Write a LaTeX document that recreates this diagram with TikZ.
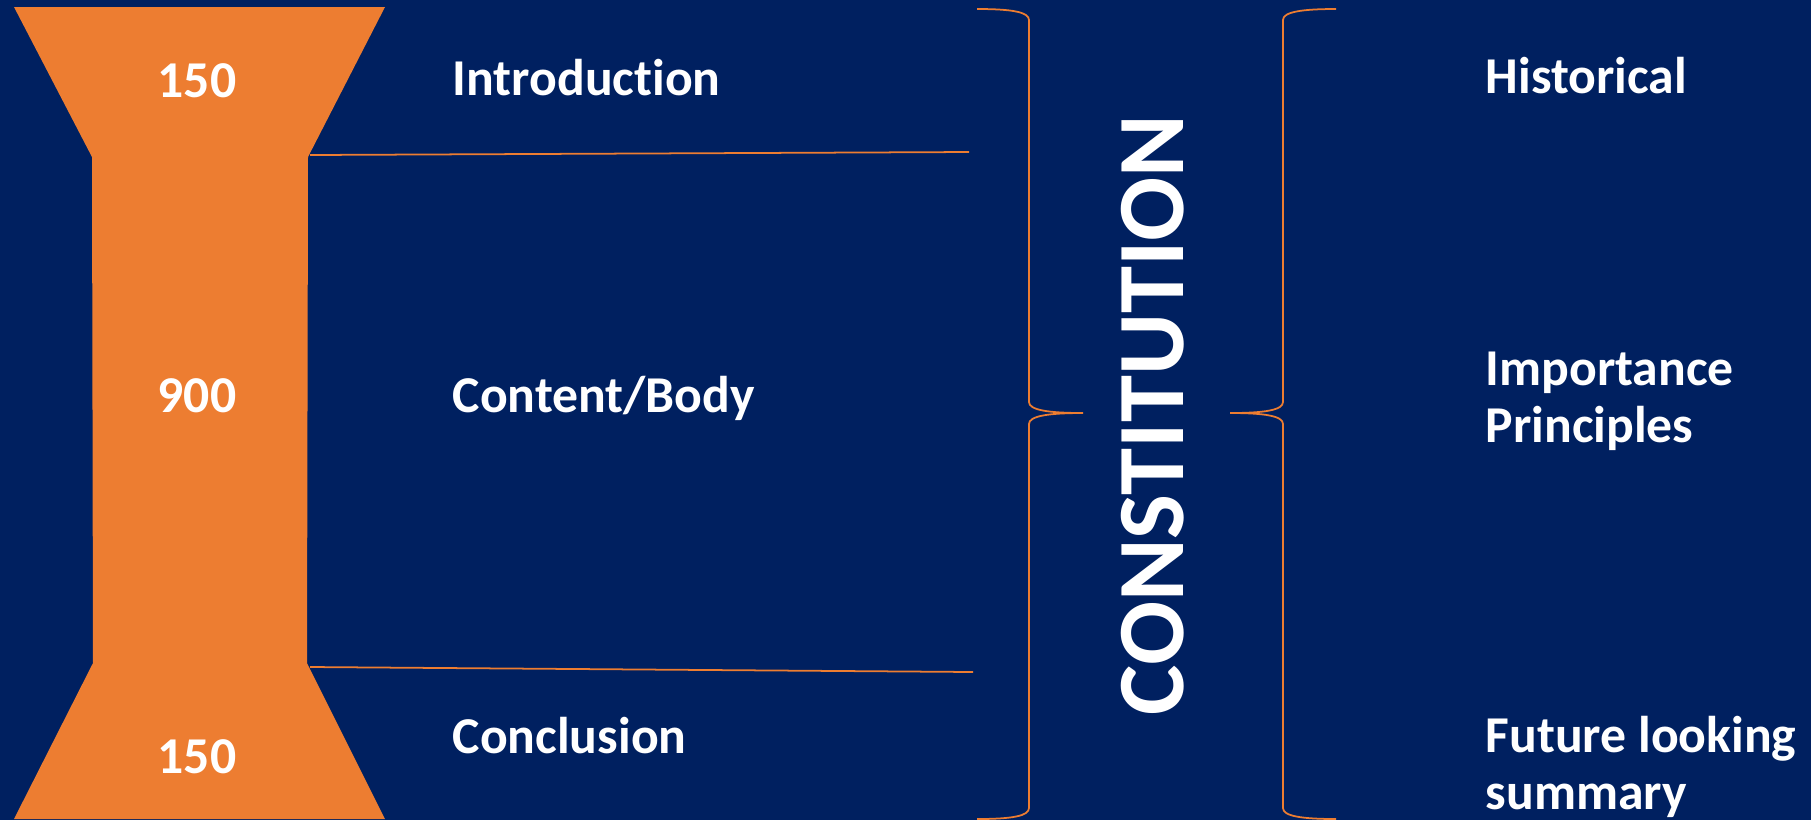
\documentclass[tikz,border=0pt]{standalone}
\usepackage{fontspec}
\setmainfont{Carlito}[Ligatures=NoCommon]
\definecolor{navy}{HTML}{002060}
\definecolor{accent}{HTML}{ED7D31}
\begin{document}
\begin{tikzpicture}[x=0.01cm,y=-0.01cm,
  label/.style={anchor=base west,inner sep=0pt,text=white,font=\fontsize{14.7}{16.2}\selectfont\bfseries,align=left},
  num/.style={anchor=base,inner sep=0pt,text=white,font=\fontsize{14.7}{16.2}\selectfont\bfseries},
  rule/.style={draw=accent,line width=0.5pt},
  brace/.style={draw=accent,line width=0.5pt}]
  % page background
  \fill[navy] (0,0) rectangle (1811,820);
  \useasboundingbox (0,0) rectangle (1811,820);

  % funnel: top trapezoid, stem, bottom trapezoid
  \fill[accent] (14,7) -- (385,7) -- (308,157) -- (307,663) -- (385,819)
    -- (14,819) -- (93,663) -- (92,157) -- cycle;

  % section numbers
  \node[num] (n1) at (197,97) {150};
  \node[num] (n2) at (197,412) {900};
  \node[num] (n3) at (197,773) {150};

  % section names
  \node[label] (intro) at (452,95) {Introduction};
  \node[label] (body) at (452,412) {Content/Body};
  \node[label] (concl) at (452,753) {Conclusion};

  % dividers between the sections
  \coordinate (d1a) at (310,155);
  \coordinate (d1b) at (969,152);
  \coordinate (d2a) at (310,667);
  \coordinate (d2b) at (973,672);
  \draw[rule] (d1a) -- (d1b);
  \draw[rule] (d2a) -- (d2b);

  % left brace, tip pointing right
  \draw[brace] (977,9) .. controls (1012,9) and (1029,12) .. (1029,20)
    -- (1029,402) .. controls (1029,410) and (1048,413) .. (1083,413)
    .. controls (1048,413) and (1029,416) .. (1029,424)
    -- (1029,808) .. controls (1029,816) and (1012,819) .. (977,819);

  % right brace, tip pointing left
  \draw[brace] (1336,9) .. controls (1301,9) and (1283,12) .. (1283,20)
    -- (1283,402) .. controls (1283,410) and (1265,413) .. (1230,413)
    .. controls (1265,413) and (1283,416) .. (1283,424)
    -- (1283,808) .. controls (1283,816) and (1301,819) .. (1336,819);

  % central title
  \node[rotate=90,inner sep=0pt,text=white,font=\fontsize{27}{30}\selectfont\bfseries] (title) at (1153,415) {CONSTITUTION};

  % aspects (two-line nodes are placed by their last baseline)
  \node[label] (hist) at (1485,93) {Historical};
  \node[label] (imp) at (1485,442) {Importance\\Principles};
  \node[label] (fut) at (1485,809) {Future looking\\summary};
\end{tikzpicture}
\end{document}
